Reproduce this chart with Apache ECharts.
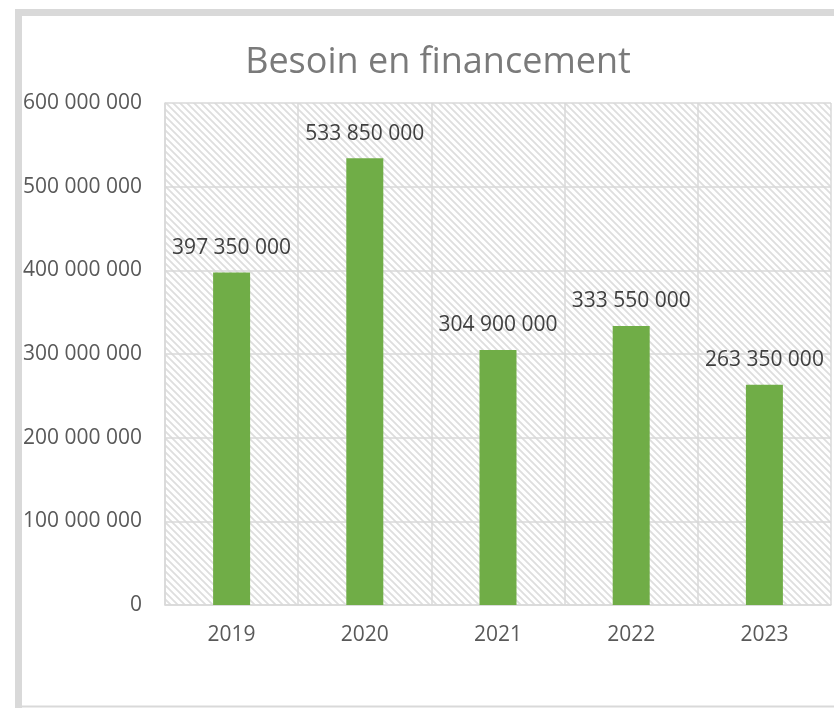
<!DOCTYPE html>
<html>
<head>
<meta charset="utf-8">
<script src="https://cdn.jsdelivr.net/npm/echarts@6/dist/echarts.min.js"></script>
<style>
html,body{margin:0;padding:0;background:#fff;}
#chart{width:834px;height:708px;}
</style>
</head>
<body>
<div id="chart"></div>
<script>
const categories = ['2019', '2020', '2021', '2022', '2023'];
const values = [397350000, 533850000, 304900000, 333550000, 263350000];
const yTicks = [0, 100000000, 200000000, 300000000, 400000000, 500000000, 600000000];

function fmt(v) {
  return String(v).replace(/\B(?=(\d{3})+(?!\d))/g, ' ');
}

// hatch pattern
const S = 7;
const pc = document.createElement('canvas');
pc.width = S; pc.height = S;
const g = pc.getContext('2d');
g.fillStyle = '#ffffff';
g.fillRect(0, 0, S, S);
g.strokeStyle = '#dedede';
g.lineWidth = 1.8;
g.beginPath();
g.moveTo(-1, -1); g.lineTo(S + 1, S + 1);
g.moveTo(-1, S - 1); g.lineTo(1, S + 1);
g.moveTo(S - 1, -1); g.lineTo(S + 1, 1);
g.stroke();

const chart = echarts.init(document.getElementById('chart'));
const font = '"Open Sans", sans-serif';
chart.setOption({
  backgroundColor: '#ffffff',
  animation: false,
  title: {
    text: 'Besoin en financement',
    left: 433, top: 40, textAlign: 'center',
    textStyle: { fontFamily: font, fontSize: 36, fontWeight: 'normal', color: '#7a7a7a' }
  },
  graphic: [
    { type: 'rect', shape: { x: 18.5, y: 12.5, width: 830, height: 700 },
      style: { fill: 'none', stroke: '#d9d9d9', lineWidth: 7 }, z: -1 },
    { type: 'line', shape: { x1: 22, y1: 706.5, x2: 834, y2: 706.5 },
      style: { stroke: '#d9d9d9', lineWidth: 2 } }
  ],
  grid: {
    left: 165, right: 3, top: 103, bottom: 103,
    show: true,
    backgroundColor: { image: pc, repeat: 'repeat' },
    borderWidth: 0
  },
  xAxis: {
    type: 'category',
    data: categories,
    axisLine: { show: true, lineStyle: { color: '#d9d9d9', width: 1.5 } },
    axisTick: { show: false },
    splitLine: { show: true, lineStyle: { color: '#d9d9d9', width: 1.5 } },
    axisLabel: { fontFamily: font, fontSize: 21, color: '#595959', margin: 20 }
  },
  yAxis: {
    type: 'value',
    min: 0, max: 600000000, interval: 100000000,
    axisLine: { show: true, lineStyle: { color: '#d9d9d9', width: 1.5 } },
    axisTick: { show: false },
    splitLine: { show: true, lineStyle: { color: '#d9d9d9', width: 1.5 } },
    axisLabel: {
      fontFamily: font, fontSize: 21, color: '#595959', margin: 23,
      formatter: v => fmt(v)
    }
  },
  series: [{
    type: 'bar',
    data: values,
    barWidth: 37,
    itemStyle: { color: '#70ad47' },
    label: {
      show: true, position: 'top', distance: 14,
      fontFamily: font, fontSize: 21, color: '#404040',
      formatter: p => fmt(p.value)
    }
  }]
});
</script>
</body>
</html>
